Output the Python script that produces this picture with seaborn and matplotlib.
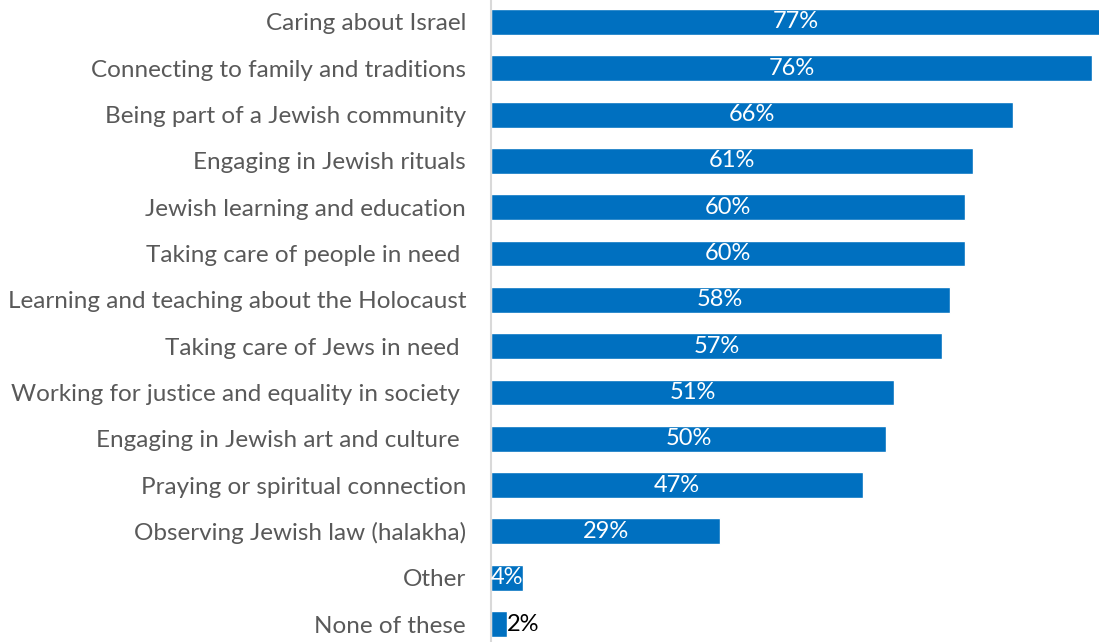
import matplotlib
matplotlib.use("Agg")
import matplotlib.pyplot as plt
import seaborn as sns
import pandas as pd

categories = [
    "Caring about Israel",
    "Connecting to family and traditions",
    "Being part of a Jewish community",
    "Engaging in Jewish rituals",
    "Jewish learning and education",
    "Taking care of people in need ",
    "Learning and teaching about the Holocaust",
    "Taking care of Jews in need ",
    "Working for justice and equality in society ",
    "Engaging in Jewish art and culture ",
    "Praying or spiritual connection",
    "Observing Jewish law (halakha)",
    "Other",
    "None of these",
]
values = [77, 76, 66, 61, 60, 60, 58, 57, 51, 50, 47, 29, 4, 2]

df = pd.DataFrame({"category": categories, "value": values})

sns.set_theme(style="white")
plt.rcParams["font.family"] = ["Lato", "DejaVu Sans"]

BLUE = "#0070C0"
fig = plt.figure(figsize=(10.99, 6.42), dpi=100)
ax = fig.add_axes([491 / 1099, -5.2 / 642, (1099 - 491) / 1099, 648.4 / 642])

sns.barplot(data=df, x="value", y="category", orient="h", color=BLUE,
            saturation=1, width=0.56, ax=ax)

ax.set_xlim(0, 76.9)
ax.set_ylim(len(categories) - 0.5, -0.5)
ax.set_xlabel("")
ax.set_ylabel("")
ax.set_xticks([])
for s in ["top", "right", "bottom"]:
    ax.spines[s].set_visible(False)
ax.spines["left"].set_color("#D9D9D9")
ax.spines["left"].set_linewidth(1.5)
ax.tick_params(axis="y", length=0, pad=18, labelsize=17.5, labelcolor="#595959")

for i, v in enumerate(values):
    if v >= 4:
        ax.text(v / 2, i, f"{v}%", ha="center", va="center",
                color="white", fontsize=17)
    else:
        ax.text(v, i, f"{v}%", ha="left", va="center",
                color="black", fontsize=17)

fig.savefig("out.png", dpi=100)
